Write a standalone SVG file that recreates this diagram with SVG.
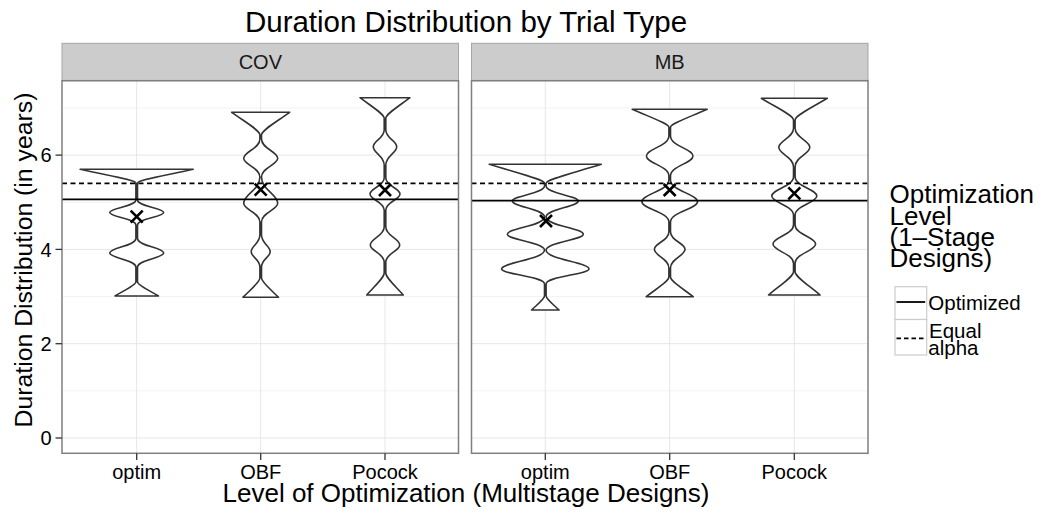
<svg xmlns="http://www.w3.org/2000/svg" width="1043" height="518" viewBox="0 0 1043 518">
  <style>
    text { font-family: "Liberation Sans", Arial, Helvetica, sans-serif; fill: #000; }
    .title { font-size: 29.5px; }
    .axtitle { font-size: 26px; }
    .axtitle-y { font-size: 24.8px; }
    .tick { font-size: 20px; }
    .strip-label { font-size: 20px; fill: #1A1A1A; }
    .leg-title { font-size: 26px; }
    .leg-text { font-size: 20.5px; }
    .panel-bg { fill: #FFFFFF; }
    .panel-border { fill: none; stroke: #7F7F7F; stroke-width: 1.5; }
    .strip { fill: #CCCCCC; stroke: #A6A6A6; stroke-width: 1; }
    .grid-major { stroke: #E6E6E6; stroke-width: 1; }
    .grid-minor { stroke: #F3F3F3; stroke-width: 1; }
    .tickmark { stroke: #333333; stroke-width: 1.3; }
    .violin { fill: #FFFFFF; stroke: #333333; stroke-width: 1.6; stroke-linejoin: round; }
    .hline-solid { stroke: #000; stroke-width: 1.8; }
    .hline-dashed { stroke: #000; stroke-width: 1.8; stroke-dasharray: 5 3.5; }
    .mean { stroke: #000; stroke-width: 2.6; fill: none; }
    .key { fill: #FFFFFF; stroke: #CCCCCC; stroke-width: 1.2; }
  </style>
  <defs>
    <path id="cross" d="M -6,-6 L 6,6 M -6,6 L 6,-6"/>
  </defs>

  <rect x="0" y="0" width="1043" height="518" fill="#FFFFFF"/>

  <!-- plot title -->
  <text class="title" x="466" y="32" text-anchor="middle">Duration Distribution by Trial Type</text>

  <!-- facet panel: COV -->
  <g id="panel-cov">
    <rect class="panel-bg" x="62" y="80.7" width="396.5" height="372.6"/>
    <g class="grid-minor">
      <line x1="62" y1="390.85" x2="458.5" y2="390.85"/>
      <line x1="62" y1="296.55" x2="458.5" y2="296.55"/>
      <line x1="62" y1="202.25" x2="458.5" y2="202.25"/>
      <line x1="62" y1="107.95" x2="458.5" y2="107.95"/>
    </g>
    <g class="grid-major">
      <line x1="62" y1="438" x2="458.5" y2="438"/>
      <line x1="62" y1="343.7" x2="458.5" y2="343.7"/>
      <line x1="62" y1="249.4" x2="458.5" y2="249.4"/>
      <line x1="62" y1="155.1" x2="458.5" y2="155.1"/>
      <line x1="136.7" y1="80.7" x2="136.7" y2="453.3"/>
      <line x1="260.7" y1="80.7" x2="260.7" y2="453.3"/>
      <line x1="385" y1="80.7" x2="385" y2="453.3"/>
    </g>
    <rect class="strip" x="62" y="43.3" width="396.5" height="37.4"/>
    <text class="strip-label" x="260.3" y="69.3" text-anchor="middle">COV</text>
  </g>

  <!-- facet panel: MB -->
  <g id="panel-mb">
    <rect class="panel-bg" x="471.5" y="80.7" width="396.5" height="372.6"/>
    <g class="grid-minor">
      <line x1="471.5" y1="390.85" x2="868" y2="390.85"/>
      <line x1="471.5" y1="296.55" x2="868" y2="296.55"/>
      <line x1="471.5" y1="202.25" x2="868" y2="202.25"/>
      <line x1="471.5" y1="107.95" x2="868" y2="107.95"/>
    </g>
    <g class="grid-major">
      <line x1="471.5" y1="438" x2="868" y2="438"/>
      <line x1="471.5" y1="343.7" x2="868" y2="343.7"/>
      <line x1="471.5" y1="249.4" x2="868" y2="249.4"/>
      <line x1="471.5" y1="155.1" x2="868" y2="155.1"/>
      <line x1="545.3" y1="80.7" x2="545.3" y2="453.3"/>
      <line x1="669.7" y1="80.7" x2="669.7" y2="453.3"/>
      <line x1="794.3" y1="80.7" x2="794.3" y2="453.3"/>
    </g>
    <rect class="strip" x="471.5" y="43.3" width="396.5" height="37.4"/>
    <text class="strip-label" x="669.7" y="69.3" text-anchor="middle">MB</text>
  </g>

  <!-- violins, COV -->
  <g id="violin-cov-optim" transform="translate(136.7,0)">
    <path class="violin" d="M -56.5,169.3 H 56.5 C 25.4,176.15 0.8,180.26 0.8,183 L 0.8,200 C 0.8,206.25 27,208.1 27,212.5 C 27,216.9 0.8,218.75 0.8,225 L 0.8,238.5 C 0.8,245.75 27,247.9 27,253 C 27,257.9 0.8,260 0.8,267 L 0.8,282 C 0.8,284.8 9.8,289 21.7,296 H -21.7 C -9.8,289 -0.8,284.8 -0.8,282 L -0.8,267 C -0.8,260 -27,257.9 -27,253 C -27,247.9 -0.8,245.75 -0.8,238.5 L -0.8,225 C -0.8,218.75 -27,216.9 -27,212.5 C -27,208.1 -0.8,206.25 -0.8,200 L -0.8,183 C -0.8,180.26 -25.4,176.15 -56.5,169.3 Z"/>
  </g>
  <g id="violin-cov-obf" transform="translate(260.7,0)">
    <path class="violin" d="M -29,112.3 H 29 C 13.05,123.65 0.8,130.46 0.8,135 L 0.8,139 C 0.8,148.65 17,151.545 17,158.3 C 17,164.845 0.8,167.65 0.8,177 C 0.8,190.15 17,194.095 17,203.3 C 17,209.845 0.8,212.65 0.8,222 L 0.8,235 C 0.8,243.35 9.5,245.855 9.5,251.7 C 9.5,257.055 0.8,259.35 0.8,267 L 0.8,278 C 0.8,281.86 8.01,287.65 17.8,297.3 H -17.8 C -8.01,287.65 -0.8,281.86 -0.8,278 L -0.8,267 C -0.8,259.35 -9.5,257.055 -9.5,251.7 C -9.5,245.855 -0.8,243.35 -0.8,235 L -0.8,222 C -0.8,212.65 -17,209.845 -17,203.3 C -17,194.095 -0.8,190.15 -0.8,177 C -0.8,167.65 -17,164.845 -17,158.3 C -17,151.545 -0.8,148.65 -0.8,139 L -0.8,135 C -0.8,130.46 -13.05,123.65 -29,112.3 Z"/>
  </g>
  <g id="violin-cov-pocock" transform="translate(385,0)">
    <path class="violin" d="M -25,97.7 H 25 C 11.25,108 0.8,114.18 0.8,118.3 L 0.8,130 C 0.8,138.35 11.7,140.855 11.7,146.7 C 11.7,153.105 0.8,155.85 0.8,165 L 0.8,178 C 0.8,186 15,188.4 15,194 C 15,199.6 0.8,202 0.8,210 L 0.8,227 C 0.8,236 14.7,238.7 14.7,245 C 14.7,250.95 0.8,253.5 0.8,262 L 0.8,273 C 0.8,277.4 8.235,284 18.3,295 H -18.3 C -8.235,284 -0.8,277.4 -0.8,273 L -0.8,262 C -0.8,253.5 -14.7,250.95 -14.7,245 C -14.7,238.7 -0.8,236 -0.8,227 L -0.8,210 C -0.8,202 -15,199.6 -15,194 C -15,188.4 -0.8,186 -0.8,178 L -0.8,165 C -0.8,155.85 -11.7,153.105 -11.7,146.7 C -11.7,140.855 -0.8,138.35 -0.8,130 L -0.8,118.3 C -0.8,114.18 -11.25,108 -25,97.7 Z"/>
  </g>

  <!-- violins, MB -->
  <g id="violin-mb-optim" transform="translate(545.3,0)">
    <path class="violin" d="M -56,164.3 H 56 C 25.2,173.8 0.8,179.5 0.8,183.3 L 0.8,186 C 0.8,193.5 33,195.75 33,201 C 33,206.6 0.8,209 0.8,217 C 0.8,225.65 38,228.245 38,234.3 C 38,239.795 0.8,242.15 0.8,250 C 0.8,259.5 43.7,262.35 43.7,269 C 43.7,274.25 0.8,276.5 0.8,284 L 0.8,296 C 0.8,298.8 6.21,303 13.8,310 H -13.8 C -6.21,303 -0.8,298.8 -0.8,296 L -0.8,284 C -0.8,276.5 -43.7,274.25 -43.7,269 C -43.7,262.35 -0.8,259.5 -0.8,250 C -0.8,242.15 -38,239.795 -38,234.3 C -38,228.245 -0.8,225.65 -0.8,217 C -0.8,209 -33,206.6 -33,201 C -33,195.75 -0.8,193.5 -0.8,186 L -0.8,183.3 C -0.8,179.5 -25.2,173.8 -56,164.3 Z"/>
  </g>
  <g id="violin-mb-obf" transform="translate(669.7,0)">
    <path class="violin" d="M -37.5,109.3 H 37.5 C 16.875,118.3 0.8,123.7 0.8,127.3 L 0.8,136 C 0.8,146 23.3,149 23.3,156 C 23.3,163 0.8,166 0.8,176 L 0.8,180 C 0.8,190.85 27.8,194.105 27.8,201.7 C 27.8,208.805 0.8,211.85 0.8,222 L 0.8,232 C 0.8,240.65 15.3,243.245 15.3,249.3 C 15.3,255.845 0.8,258.65 0.8,268 L 0.8,277 C 0.8,280.94 10.575,286.85 23.5,296.7 H -23.5 C -10.575,286.85 -0.8,280.94 -0.8,277 L -0.8,268 C -0.8,258.65 -15.3,255.845 -15.3,249.3 C -15.3,243.245 -0.8,240.65 -0.8,232 L -0.8,222 C -0.8,211.85 -27.8,208.805 -27.8,201.7 C -27.8,194.105 -0.8,190.85 -0.8,180 L -0.8,176 C -0.8,166 -23.3,163 -23.3,156 C -23.3,149 -0.8,146 -0.8,136 L -0.8,127.3 C -0.8,123.7 -16.875,118.3 -37.5,109.3 Z"/>
  </g>
  <g id="violin-mb-pocock" transform="translate(794.3,0)">
    <path class="violin" d="M -33,98.3 H 33 C 14.85,109.15 0.8,115.66 0.8,120 L 0.8,128.3 C 0.8,137.8 15.5,140.65 15.5,147.3 C 15.5,154.09 0.8,157 0.8,166.7 L 0.8,176.7 C 0.8,186.35 22.5,189.245 22.5,196 C 22.5,202.65 0.8,205.5 0.8,215 L 0.8,225 C 0.8,234.5 21.3,237.35 21.3,244 C 21.3,250.755 0.8,253.65 0.8,263.3 L 0.8,271.7 C 0.8,276.36 11.61,283.35 25.8,295 H -25.8 C -11.61,283.35 -0.8,276.36 -0.8,271.7 L -0.8,263.3 C -0.8,253.65 -21.3,250.755 -21.3,244 C -21.3,237.35 -0.8,234.5 -0.8,225 L -0.8,215 C -0.8,205.5 -22.5,202.65 -22.5,196 C -22.5,189.245 -0.8,186.35 -0.8,176.7 L -0.8,166.7 C -0.8,157 -15.5,154.09 -15.5,147.3 C -15.5,140.65 -0.8,137.8 -0.8,128.3 L -0.8,120 C -0.8,115.66 -14.85,109.15 -33,98.3 Z"/>
  </g>

  <!-- reference lines for the 1-stage designs -->
  <g id="reference-lines">
    <line class="hline-dashed" x1="62" y1="183.3" x2="458.5" y2="183.3"/>
    <line class="hline-solid" x1="62" y1="199.4" x2="458.5" y2="199.4"/>
    <line class="hline-dashed" x1="471.5" y1="183.3" x2="868" y2="183.3"/>
    <line class="hline-solid" x1="471.5" y1="200.7" x2="868" y2="200.7"/>
  </g>

  <!-- mean markers -->
  <g id="means" class="mean">
    <use href="#cross" transform="translate(136.7,216.7)"/>
    <use href="#cross" transform="translate(260.7,189.6)"/>
    <use href="#cross" transform="translate(385,190)"/>
    <use href="#cross" transform="translate(546,221)"/>
    <use href="#cross" transform="translate(669.7,190)"/>
    <use href="#cross" transform="translate(794.3,193.3)"/>
  </g>

  <!-- panel borders -->
  <rect class="panel-border" x="62" y="80.7" width="396.5" height="372.6"/>
  <rect class="panel-border" x="471.5" y="80.7" width="396.5" height="372.6"/>

  <!-- y axis -->
  <g id="y-axis">
    <line class="tickmark" x1="55.5" y1="438" x2="62" y2="438"/>
    <line class="tickmark" x1="55.5" y1="343.7" x2="62" y2="343.7"/>
    <line class="tickmark" x1="55.5" y1="249.4" x2="62" y2="249.4"/>
    <line class="tickmark" x1="55.5" y1="155.1" x2="62" y2="155.1"/>
    <text class="tick" x="51.5" y="445.2" text-anchor="end">0</text>
    <text class="tick" x="51.5" y="350.9" text-anchor="end">2</text>
    <text class="tick" x="51.5" y="256.6" text-anchor="end">4</text>
    <text class="tick" x="51.5" y="162.3" text-anchor="end">6</text>
    <text class="axtitle-y" transform="translate(31.5,260) rotate(-90)" text-anchor="middle">Duration Distribution (in years)</text>
  </g>

  <!-- x axis -->
  <g id="x-axis">
    <line class="tickmark" x1="136.7" y1="453.3" x2="136.7" y2="460"/>
    <line class="tickmark" x1="260.7" y1="453.3" x2="260.7" y2="460"/>
    <line class="tickmark" x1="385" y1="453.3" x2="385" y2="460"/>
    <line class="tickmark" x1="545.3" y1="453.3" x2="545.3" y2="460"/>
    <line class="tickmark" x1="669.7" y1="453.3" x2="669.7" y2="460"/>
    <line class="tickmark" x1="794.3" y1="453.3" x2="794.3" y2="460"/>
    <text class="tick" x="136.7" y="478.5" text-anchor="middle">optim</text>
    <text class="tick" x="260.7" y="478.5" text-anchor="middle">OBF</text>
    <text class="tick" x="385" y="478.5" text-anchor="middle">Pocock</text>
    <text class="tick" x="545.3" y="478.5" text-anchor="middle">optim</text>
    <text class="tick" x="669.7" y="478.5" text-anchor="middle">OBF</text>
    <text class="tick" x="794.3" y="478.5" text-anchor="middle">Pocock</text>
    <text class="axtitle" x="466" y="501.5" text-anchor="middle">Level of Optimization (Multistage Designs)</text>
  </g>

  <!-- legend -->
  <g id="legend">
    <text class="leg-title" x="889.5" y="203.3">Optimization</text>
    <text class="leg-title" x="889.5" y="224.5">Level</text>
    <text class="leg-title" x="889.5" y="245.7">(1–Stage</text>
    <text class="leg-title" x="889.5" y="266.9">Designs)</text>
    <g id="legend-optimized">
      <rect class="key" x="895" y="286.7" width="31.7" height="32.8"/>
      <line class="hline-solid" x1="896.5" y1="302" x2="925.2" y2="302"/>
      <text class="leg-text" x="928.3" y="310.3">Optimized</text>
    </g>
    <g id="legend-equal-alpha">
      <rect class="key" x="895" y="319.5" width="31.7" height="35.5"/>
      <line class="hline-dashed" x1="896.5" y1="338.3" x2="925.2" y2="338.3" style="stroke-dasharray: 4.5 3"/>
      <text class="leg-text" x="929" y="337.8">Equal</text>
      <text class="leg-text" x="928.3" y="355">alpha</text>
    </g>
  </g>
</svg>
